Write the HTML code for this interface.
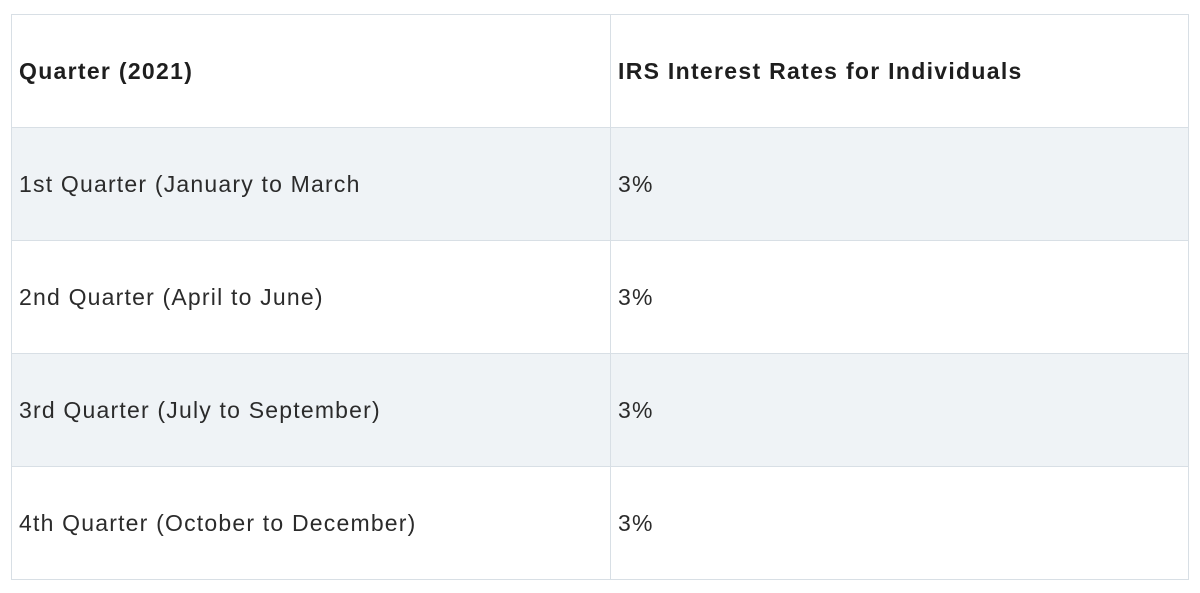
<!DOCTYPE html>
<html><head><style>
body{margin:0;background:#fff;width:1200px;height:593px;overflow:hidden;font-family:"Liberation Sans",sans-serif;}
table{position:absolute;left:11px;top:14px;border-collapse:collapse;width:1178px;}
td{border:1px solid #d8dfe5;height:112px;padding:0 0 0 7px;font-size:23px;letter-spacing:1.2px;color:#2b2b2b;vertical-align:middle;}
tr.h td{font-weight:bold;color:#1e1e1e;letter-spacing:1.3px;}
tr.g td{background:#eff3f6;}
td.c1{width:591px;}
</style></head><body>
<table>
<tr class="h"><td class="c1">Quarter (2021)</td><td>IRS Interest Rates for Individuals</td></tr>
<tr class="g"><td class="c1">1st Quarter (January to March</td><td>3%</td></tr>
<tr><td class="c1">2nd Quarter (April to June)</td><td>3%</td></tr>
<tr class="g"><td class="c1">3rd Quarter (July to September)</td><td>3%</td></tr>
<tr><td class="c1">4th Quarter (October to December)</td><td>3%</td></tr>
</table>
</body></html>
